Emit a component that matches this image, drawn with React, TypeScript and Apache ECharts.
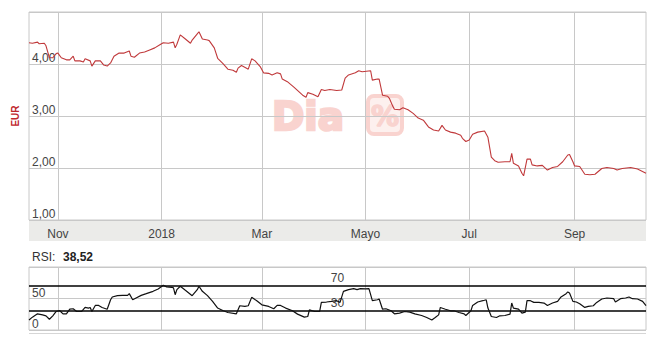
import React, { useEffect, useRef } from "react";
import * as echarts from "echarts";

const priceDates = [
  "2017-10-15","2017-10-17","2017-10-20","2017-10-21","2017-10-24","2017-10-25","2017-10-27","2017-10-29","2017-10-31","2017-11-01",
  "2017-11-03","2017-11-06","2017-11-08","2017-11-10","2017-11-11","2017-11-14","2017-11-16","2017-11-17","2017-11-20","2017-11-21",
  "2017-11-23","2017-11-26","2017-11-28","2017-11-30","2017-12-02","2017-12-04","2017-12-07","2017-12-10","2017-12-13","2017-12-14",
  "2017-12-16","2017-12-19","2017-12-22","2017-12-25","2017-12-28","2017-12-31","2018-01-02","2018-01-05","2018-01-08","2018-01-09",
  "2018-01-10","2018-01-12","2018-01-15","2018-01-18","2018-01-19","2018-01-22","2018-01-23","2018-01-25","2018-01-28","2018-01-29",
  "2018-02-01","2018-02-03","2018-02-06","2018-02-09","2018-02-12","2018-02-14","2018-02-15","2018-02-17","2018-02-20","2018-02-21",
  "2018-02-23","2018-02-25","2018-02-28","2018-03-02","2018-03-05","2018-03-07","2018-03-10","2018-03-12","2018-03-13","2018-03-16",
  "2018-03-20","2018-03-25","2018-03-27","2018-03-28","2018-03-31","2018-04-03","2018-04-05","2018-04-07","2018-04-10","2018-04-14",
  "2018-04-17","2018-04-19","2018-04-21","2018-04-25","2018-04-27","2018-04-29","2018-05-04","2018-05-05","2018-05-08","2018-05-09",
  "2018-05-11","2018-05-14","2018-05-15","2018-05-17","2018-05-18","2018-05-21","2018-05-23","2018-05-26","2018-05-29","2018-06-01",
  "2018-06-04","2018-06-07","2018-06-10","2018-06-13","2018-06-15","2018-06-17","2018-06-20","2018-06-23","2018-06-26","2018-06-27",
  "2018-06-29","2018-07-01","2018-07-03","2018-07-06","2018-07-10","2018-07-12","2018-07-14","2018-07-16","2018-07-18","2018-07-22",
  "2018-07-25","2018-07-26","2018-07-27","2018-07-30","2018-08-01","2018-08-02","2018-08-04","2018-08-06","2018-08-07","2018-08-10",
  "2018-08-13","2018-08-16","2018-08-19","2018-08-22","2018-08-25","2018-08-28","2018-08-29","2018-08-31","2018-09-01","2018-09-04",
  "2018-09-07","2018-09-10","2018-09-13","2018-09-17","2018-09-20","2018-09-24","2018-09-26","2018-09-29","2018-10-04","2018-10-08",
  "2018-10-13",
];
const priceValues = [
  4.41,4.40,4.42,4.39,4.40,4.35,4.12,4.12,4.20,4.21,
  4.12,4.08,4.08,4.15,4.06,4.06,4.04,4.10,4.06,3.96,
  4.06,4.06,3.98,3.96,4.02,4.15,4.21,4.21,4.25,4.15,
  4.13,4.21,4.23,4.27,4.31,4.37,4.41,4.40,4.42,4.31,
  4.38,4.56,4.48,4.40,4.46,4.58,4.62,4.48,4.46,4.45,
  4.31,4.11,4.01,3.90,3.88,3.84,3.92,3.97,3.92,3.90,
  4.10,4.06,3.95,3.83,3.82,3.79,3.83,3.81,3.71,3.66,
  3.55,3.40,3.36,3.45,3.42,3.37,3.51,3.49,3.51,3.49,
  3.50,3.73,3.79,3.83,3.87,3.85,3.87,3.69,3.71,3.71,
  3.40,3.38,3.34,3.19,3.13,3.12,3.16,3.12,3.05,2.96,
  2.92,2.79,2.73,2.71,2.82,2.73,2.69,2.67,2.63,2.57,
  2.51,2.54,2.65,2.69,2.71,2.59,2.21,2.14,2.11,2.12,
  2.12,2.28,2.09,2.04,1.90,1.85,2.17,2.17,2.06,2.04,
  2.05,1.96,2.01,2.03,2.12,2.25,2.26,2.12,2.04,2.03,
  1.88,1.87,1.88,1.99,2.01,1.99,1.96,1.99,2.01,1.98,
  1.90,
];

const rsiDates = [
  "2017-10-15","2017-10-17","2017-10-20","2017-10-23","2017-10-25","2017-10-27","2017-10-29","2017-10-31","2017-11-02","2017-11-04",
  "2017-11-06","2017-11-08","2017-11-10","2017-11-12","2017-11-15","2017-11-17","2017-11-19","2017-11-20","2017-11-21","2017-11-23",
  "2017-11-25","2017-11-27","2017-11-30","2017-12-02","2017-12-03","2017-12-06","2017-12-09","2017-12-12","2017-12-13","2017-12-15",
  "2017-12-17","2017-12-20","2017-12-23","2017-12-27","2017-12-30","2018-01-02","2018-01-04","2018-01-07","2018-01-08","2018-01-09",
  "2018-01-10","2018-01-12","2018-01-15","2018-01-19","2018-01-22","2018-01-23","2018-01-25","2018-01-28","2018-01-31","2018-02-03",
  "2018-02-06","2018-02-09","2018-02-14","2018-02-16","2018-02-19","2018-02-21","2018-02-23","2018-02-26","2018-03-01","2018-03-05",
  "2018-03-08","2018-03-10","2018-03-12","2018-03-15","2018-03-19","2018-03-22","2018-03-26","2018-03-28","2018-03-29","2018-04-01",
  "2018-04-04","2018-04-05","2018-04-08","2018-04-11","2018-04-14","2018-04-16","2018-04-18","2018-04-21","2018-04-24","2018-04-26",
  "2018-04-28","2018-05-01","2018-05-03","2018-05-05","2018-05-08","2018-05-09","2018-05-11","2018-05-13","2018-05-16","2018-05-18",
  "2018-05-21","2018-05-24","2018-05-27","2018-05-30","2018-06-03","2018-06-06","2018-06-09","2018-06-11","2018-06-13","2018-06-14",
  "2018-06-17","2018-06-20","2018-06-22","2018-06-25","2018-06-28","2018-06-29","2018-07-02","2018-07-03","2018-07-06","2018-07-09",
  "2018-07-11","2018-07-12","2018-07-14","2018-07-17","2018-07-19","2018-07-22","2018-07-25","2018-07-26","2018-07-27","2018-07-30",
  "2018-08-01","2018-08-03","2018-08-04","2018-08-06","2018-08-08","2018-08-11","2018-08-14","2018-08-16","2018-08-19","2018-08-22",
  "2018-08-24","2018-08-27","2018-08-28","2018-08-29","2018-08-31","2018-09-02","2018-09-04","2018-09-07","2018-09-09","2018-09-12",
  "2018-09-14","2018-09-17","2018-09-20","2018-09-24","2018-09-25","2018-09-28","2018-10-01","2018-10-03","2018-10-05","2018-10-08",
  "2018-10-11","2018-10-13",
];
const rsiValues = [
  16,20.4,25.7,24,22.5,17,22.5,29.4,31,25.7,
  25.7,33,33.7,29.4,29.4,35.8,34.8,35.8,29.4,39,
  39,35.8,33,48,52.4,54.5,55,55,57.7,48,
  50.8,55,57.7,61.4,65.2,71,68.4,67.8,66.8,56,
  64,69.4,63,54.5,64,69.4,61.4,54.5,45.4,34.8,
  31,27.8,25.7,38.5,37.4,38.5,51.8,46.5,40,37.4,
  33.7,39,39,34.8,30.5,25.2,20.4,21.4,32,29.4,
  29.4,43.8,44.4,45.4,46.5,43.8,61.4,64,65.7,64,
  65.7,65.2,65.7,46.5,48,49.2,33,33.7,30.5,25.7,
  26.8,29.4,28.4,25.7,23,19.8,16,19.8,24,35.8,
  33,30.5,30.5,27.8,25.7,23,30.5,39,44.4,46.5,
  48,34.8,21.4,19.8,22.5,23,25.2,42.8,34.8,33,
  26.8,28.4,46.5,46.5,43.8,43.8,42.8,39,42.8,45.4,
  52.4,57.7,60.4,58.8,45.4,44.4,41.7,35.8,37.4,38.5,
  43.8,49.2,50.8,49.7,44.4,49.7,50.8,52.4,49.7,49.2,
  45.4,38.52,
];

const tickDates = ["2017-11-01", "2018-01-01", "2018-03-01", "2018-05-01", "2018-07-01", "2018-09-01"];
const tickLabels = ["Nov", "2018", "Mar", "Mayo", "Jul", "Sep"];
const rangeStart = "2017-10-15";
const rangeEnd = "2018-10-13";
const rsiLevels = [70, 30];
const rsiLast = "38,52";

function ts(s: string): number {
  const [y, m, d] = s.split("-").map(Number);
  return Date.UTC(y, m - 1, d);
}

export default function App() {
  const ref = useRef<HTMLDivElement>(null);
  useEffect(() => {
    if (!ref.current) return;
    const chart = echarts.init(ref.current, null, { renderer: "svg" });
    const tickTs = tickDates.map(ts);
    const font = "Arial, 'Liberation Sans', sans-serif";
    const gridColor = "#c8c8c8";
    const wm = "#f9d3cf";
    const xBase = {
      type: "value" as const,
      min: ts(rangeStart),
      max: ts(rangeEnd),
      axisLine: { show: false },
      axisTick: { show: false, customValues: tickTs },
      splitLine: { show: true, lineStyle: { color: gridColor, width: 1 } },
    };
    chart.setOption({
      animation: false,
      textStyle: { fontFamily: font },
      grid: [
        { left: 29, top: 12, width: 617, height: 208, show: true, borderColor: gridColor, borderWidth: 1, containLabel: false },
        { left: 29, top: 267, width: 617, height: 63, show: true, borderColor: gridColor, borderWidth: 1, containLabel: false },
      ],
      xAxis: [
        {
          ...xBase,
          gridIndex: 0,
          axisLabel: {
            show: true,
            customValues: tickTs,
            margin: 8,
            fontSize: 12,
            color: "#444",
            fontFamily: font,
            hideOverlap: false,
            formatter: (v: number) => {
              const i = tickTs.indexOf(v);
              return i >= 0 ? tickLabels[i] : "";
            },
          },
        },
        { ...xBase, gridIndex: 1, axisLabel: { show: false } },
      ],
      yAxis: [
        {
          type: "value",
          gridIndex: 0,
          min: 1,
          max: 5,
          interval: 1,
          axisLine: { show: false },
          axisTick: { show: false },
          splitLine: { lineStyle: { color: gridColor, width: 1 } },
          axisLabel: {
            inside: true,
            margin: 3,
            fontSize: 12,
            color: "#444",
            fontFamily: font,
            verticalAlign: "bottom",
            showMaxLabel: false,
            formatter: (v: number) => v.toFixed(2).replace(".", ","),
          },
        },
        {
          type: "value",
          gridIndex: 1,
          min: 0,
          max: 100,
          interval: 50,
          axisLine: { show: false },
          axisTick: { show: false },
          splitLine: { lineStyle: { color: gridColor, width: 1 } },
          axisLabel: {
            inside: true,
            margin: 3,
            fontSize: 12,
            color: "#444",
            fontFamily: font,
            verticalAlign: "bottom",
            showMaxLabel: false,
          },
        },
      ],
      graphic: [
        { type: "rect", z: -10, shape: { x: 29, y: 220, width: 617, height: 21 }, style: { fill: "#ebebe9" } },
        {
          type: "text", z: -5, x: 272, y: 116,
          style: { text: "Dia", font: "bold 39px 'DejaVu Sans', sans-serif", fill: wm, stroke: wm, lineWidth: 2.5, align: "left", verticalAlign: "middle" },
        },
        {
          type: "rect", z: -5,
          shape: { x: 368, y: 96, width: 34, height: 38, r: 6 },
          style: { fill: "#fdf0ee", stroke: wm, lineWidth: 4 },
        },
        {
          type: "text", z: -5, x: 385, y: 116,
          style: { text: "%", font: "bold 28px 'DejaVu Sans', sans-serif", fill: wm, stroke: wm, lineWidth: 1.5, align: "center", verticalAlign: "middle" },
        },
        {
          type: "text", x: 15, y: 116, rotation: Math.PI / 2,
          style: { text: "EUR", font: "bold 10px Arial, 'Liberation Sans', sans-serif", fill: "#c0272d", align: "center", verticalAlign: "middle" },
        },
        {
          type: "text", x: 32, y: 257,
          style: { text: "RSI:", font: "12px Arial, 'Liberation Sans', sans-serif", fill: "#333", align: "left", verticalAlign: "middle" },
        },
        {
          type: "text", x: 63, y: 257,
          style: { text: rsiLast, font: "bold 12px Arial, 'Liberation Sans', sans-serif", fill: "#222", align: "left", verticalAlign: "middle" },
        },
        {
          type: "line", shape: { x1: 29, y1: 333.5, x2: 646, y2: 333.5 },
          style: { stroke: "#d6d6d6", lineWidth: 1 },
        },
      ],
      series: [
        {
          type: "line",
          xAxisIndex: 0,
          yAxisIndex: 0,
          data: priceDates.map((d, i) => [ts(d), priceValues[i]]),
          showSymbol: false,
          symbol: "none",
          lineStyle: { color: "#c0393b", width: 1.1 },
          z: 5,
        },
        {
          type: "line",
          xAxisIndex: 1,
          yAxisIndex: 1,
          data: rsiDates.map((d, i) => [ts(d), rsiValues[i]]),
          showSymbol: false,
          symbol: "none",
          lineStyle: { color: "#111", width: 1.2 },
          z: 5,
          markLine: {
            silent: true,
            symbol: ["none", "none"],
            lineStyle: { color: "#000", width: 1.5, type: "solid" },
            label: { show: true, position: "insideMiddleTop", color: "#444", fontSize: 12, fontFamily: font, distance: 2, formatter: "{c}" },
            data: rsiLevels.map((v) => ({ yAxis: v })),
          },
        },
      ],
    });
    return () => chart.dispose();
  }, []);
  return <div ref={ref} style={{ position: "absolute", left: 0, top: 0, width: 663, height: 351 }} />;
}
